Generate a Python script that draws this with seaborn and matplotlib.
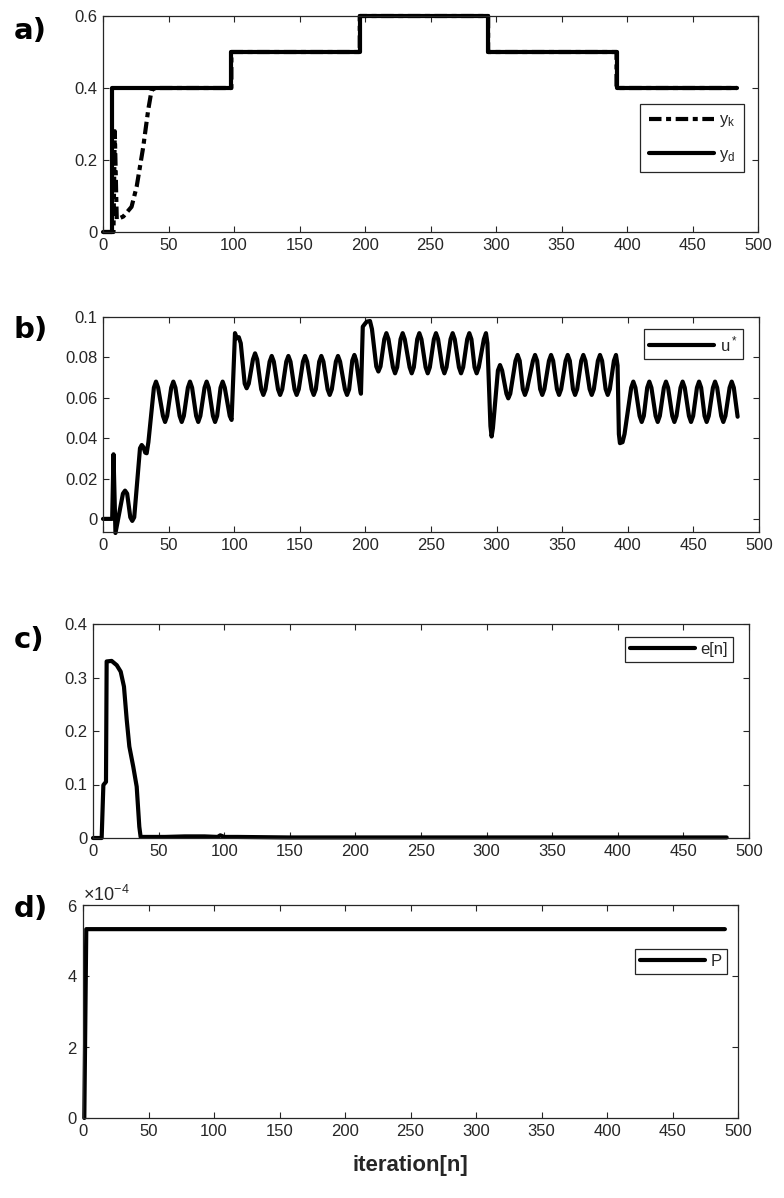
import matplotlib
matplotlib.use("Agg")
import matplotlib.pyplot as plt
import seaborn as sns
import pandas as pd
from matplotlib.ticker import FuncFormatter, MultipleLocator, ScalarFormatter

# ---------------- data ----------------
# panel a: desired output y_d and plant output y_k
yd_n = [0, 7, 7, 98, 98, 196, 196, 294, 294, 392, 392, 484]
yd_v = [0, 0, 0.4, 0.4, 0.5, 0.5, 0.6, 0.6, 0.5, 0.5, 0.4, 0.4]
yk_n = [0, 8, 9, 10.5, 15.5, 21.8, 25.7, 30.7, 34.5, 37.1, 40, 98, 98, 196, 196, 294, 294, 392, 392, 484]
yk_v = [0, 0, 0.28, 0.035, 0.043, 0.070, 0.126, 0.236, 0.339, 0.394, 0.4, 0.4, 0.5, 0.5, 0.6, 0.6, 0.5, 0.5, 0.4, 0.4]

# panel b: control signal u*
u_n = [0, 7, 8, 9.5, 15.2, 16.8, 18.4, 20.8, 22.3, 23.8, 28.2, 29.5, 30.8, 32.2, 33.3, 34.6,
       38.8, 40.4, 42.0, 45.7, 47.3, 48.9, 52.0, 53.6, 55.2, 58.4, 60, 61.6,
       64.7, 66.3, 67.9, 71.0, 72.6, 74.2, 77.4, 79, 80.6, 83.8, 85.4, 87.0,
       89.6, 91.2, 92.8, 96.6, 98,
       100.6, 102, 103.5, 105, 108, 109.5, 111.1,
       114.3, 115.9, 117.5, 120.6, 122.2, 123.8, 127.0, 128.6, 130.2, 133.4, 135, 136.6,
       139.7, 141.3, 142.9, 146.0, 147.6, 149.2, 152.4, 154, 155.6, 159.0, 160.6, 162.2,
       164.8, 166.4, 168.0, 171.2, 172.8, 174.4, 177.5, 179.1, 180.7, 184.4, 186, 187.6,
       190.0, 191.6, 193.0, 196.0, 196.6,
       198, 199.5, 201, 203.5, 205, 208.3, 209.9, 211.5,
       214.4, 216, 217.6, 221.0, 222.6, 224.2, 226.8, 228.4, 230.0, 233.7, 235.3, 236.9,
       239.5, 241.1, 242.7, 245.9, 247.5, 249.1, 252.2, 253.8, 255.4, 258.6, 260.2, 261.8,
       264.9, 266.5, 268.1, 271.3, 272.9, 274.5, 277.6, 279.2, 280.8, 283.2, 284.8, 286.4,
       290.3, 291.9, 293.0,
       295.3, 296.2, 297.2, 301.0, 302.6, 304.2, 307.5, 308.9, 310.4,
       314.4, 316, 317.6, 320.0, 321.6, 323.2, 327.7, 329.3, 330.9, 333.2, 334.8, 336.4,
       339.9, 341.5, 343.1, 346.0, 347.6, 349.2, 352.6, 354.2, 355.8, 358.2, 359.8, 361.4,
       364.5, 366.1, 367.7, 370.9, 372.5, 374.1, 377.2, 378.8, 380.4, 383.1, 384.7, 386.3,
       389.4, 391, 392.2,
       393.2, 394, 396, 397.5,
       402.6, 404.2, 405.8, 409.0, 410.6, 412.2, 414.8, 416.4, 418.0, 421.2, 422.8, 424.4,
       427.5, 429.1, 430.7, 433.9, 435.5, 437.1, 440.2, 441.8, 443.4, 446.6, 448.2, 449.8,
       452.7, 454.3, 455.9, 458.5, 460.1, 461.7, 464.9, 466.5, 468.1, 471.2, 472.8, 474.4,
       477.6, 479.2, 480.8, 483.7]
u_v = [0, 0, 0.032, -0.007, 0.0125, 0.014, 0.0125, 0.0008, -0.001, 0.0008, 0.035, 0.0366, 0.0355, 0.0328, 0.0325, 0.038,
       0.065, 0.068, 0.065, 0.051, 0.048, 0.051, 0.065, 0.068, 0.065, 0.051, 0.048, 0.051,
       0.065, 0.068, 0.065, 0.051, 0.048, 0.051, 0.065, 0.068, 0.065, 0.051, 0.048, 0.051,
       0.065, 0.068, 0.065, 0.051, 0.049,
       0.092, 0.0895, 0.090, 0.087, 0.067, 0.0647, 0.067,
       0.079, 0.082, 0.079, 0.0642, 0.0614, 0.0642, 0.0779, 0.0807, 0.0779, 0.0642, 0.0614, 0.0642,
       0.0779, 0.0807, 0.0779, 0.0642, 0.0614, 0.0642, 0.0779, 0.0807, 0.0779, 0.0642, 0.0614, 0.0642,
       0.0779, 0.0807, 0.0779, 0.0642, 0.0614, 0.0642, 0.0779, 0.0807, 0.0779, 0.0642, 0.0614, 0.0642,
       0.0784, 0.0812, 0.0784, 0.064, 0.062,
       0.0952, 0.0965, 0.0977, 0.098, 0.094, 0.0755, 0.073, 0.0755,
       0.089, 0.092, 0.089, 0.0751, 0.0721, 0.0751, 0.089, 0.092, 0.089, 0.0751, 0.0721, 0.0751,
       0.089, 0.092, 0.089, 0.0751, 0.0721, 0.0751, 0.089, 0.092, 0.089, 0.0751, 0.0721, 0.0751,
       0.089, 0.092, 0.089, 0.0751, 0.0721, 0.0751, 0.089, 0.092, 0.089, 0.0751, 0.0721, 0.0751,
       0.089, 0.092, 0.087,
       0.046, 0.0408, 0.045, 0.0735, 0.0762, 0.0735, 0.062, 0.0597, 0.062,
       0.0783, 0.0812, 0.0783, 0.0643, 0.0614, 0.0643, 0.0783, 0.0812, 0.0783, 0.0643, 0.0614, 0.0643,
       0.0783, 0.0812, 0.0783, 0.0643, 0.0614, 0.0643, 0.0783, 0.0812, 0.0783, 0.0643, 0.0614, 0.0643,
       0.0783, 0.0812, 0.0783, 0.0643, 0.0614, 0.0643, 0.0783, 0.0812, 0.0783, 0.0643, 0.0614, 0.0643,
       0.0783, 0.0812, 0.076,
       0.042, 0.0375, 0.038, 0.042,
       0.065, 0.068, 0.065, 0.051, 0.048, 0.051, 0.065, 0.068, 0.065, 0.051, 0.048, 0.051,
       0.065, 0.068, 0.065, 0.051, 0.048, 0.051, 0.065, 0.068, 0.065, 0.051, 0.048, 0.051,
       0.065, 0.068, 0.065, 0.051, 0.048, 0.051, 0.065, 0.068, 0.065, 0.051, 0.048, 0.051,
       0.065, 0.068, 0.065, 0.0506]

# panel c: tracking error e[n]
e_n = [0, 6.6, 7.9, 9.9, 10.4, 14.2, 18.1, 21.1, 23.6, 25.7, 27.7, 30.7, 33.3, 35.3, 36.3,
       45, 55, 70, 85, 95, 97, 100, 110, 150, 200, 300, 400, 483]
e_v = [0, 0, 0.099, 0.105, 0.330, 0.331, 0.323, 0.311, 0.283, 0.221, 0.171, 0.133, 0.096,
       0.021, 0.002, 0.002, 0.002, 0.003, 0.003, 0.002, 0.005, 0.002, 0.002, 0.001, 0.001,
       0.001, 0.001, 0.001]

# panel d: P
p_n = [1, 2.5, 490]
p_v = [0, 5.32e-4, 5.32e-4]

panel_labels = ["a)", "b)", "c)", "d)"]
x_ticks = [0, 50, 100, 150, 200, 250, 300, 350, 400, 450, 500]

# ---------------- style ----------------
sns.set_theme(style="ticks")
plt.rcParams["font.family"] = ["Liberation Sans", "DejaVu Sans"]
plt.rcParams["mathtext.fontset"] = "custom"
plt.rcParams["mathtext.rm"] = "Liberation Sans"
plt.rcParams["mathtext.it"] = "Liberation Sans:italic"
plt.rcParams["mathtext.bf"] = "Liberation Sans:bold"

W, H = 784, 1198
fig = plt.figure(figsize=(W / 100, H / 100), dpi=100)

def ax_rect(l, r, t, b):
    return [l / W, 1 - b / H, (r - l) / W, (b - t) / H]

axA = fig.add_axes(ax_rect(103, 758, 16, 232))
axB = fig.add_axes(ax_rect(103, 759, 317, 532))
axC = fig.add_axes(ax_rect(93, 749, 624, 838))
axD = fig.add_axes(ax_rect(83, 738, 905, 1118))

LW = 3.0
AXC = "#262626"
gfmt = FuncFormatter(lambda v, p: "%g" % round(v, 6))

def style(ax, ylim, ystep):
    ax.set_xlim(0, 500)
    ax.set_ylim(*ylim)
    ax.set_xticks(x_ticks)
    ax.yaxis.set_major_locator(MultipleLocator(ystep))
    ax.tick_params(direction="in", top=True, right=True, length=4.5, width=0.8,
                   labelsize=12, colors=AXC, pad=4)
    for s in ax.spines.values():
        s.set_color(AXC)
        s.set_linewidth(0.9)
    ax.set_xlabel("")
    ax.set_ylabel("")

def leg(ax, anchor, **kw):
    opts = dict(fontsize=12, handlelength=3.9, handletextpad=0.35, borderpad=0.3)
    opts.update(kw)
    lg = ax.legend(loc="upper right", bbox_to_anchor=anchor, borderaxespad=0,
                   fancybox=False, framealpha=1, edgecolor=AXC, **opts)
    lg.get_frame().set_linewidth(0.9)
    return lg

# panel a
dfa_k = pd.DataFrame({"n": yk_n, "v": yk_v})
dfa_d = pd.DataFrame({"n": yd_n, "v": yd_v})
sns.lineplot(data=dfa_k, x="n", y="v", ax=axA, color="black", lw=LW, sort=False,
             estimator=None, label=r"$\mathrm{y_k}$")
axA.lines[-1].set_dashes([3.0, 1.1, 1.2, 1.1])
sns.lineplot(data=dfa_d, x="n", y="v", ax=axA, color="black", lw=LW, sort=False,
             estimator=None, label=r"$\mathrm{y_d}$")
style(axA, (0, 0.6), 0.2)
axA.yaxis.set_major_formatter(gfmt)
leg(axA, ((744 - 103) / 655, 1 - (104 - 16) / 216), labelspacing=1.05, borderpad=0.5)

# panel b
dfb = pd.DataFrame({"n": u_n, "v": u_v})
sns.lineplot(data=dfb, x="n", y="v", ax=axB, color="black", lw=LW, sort=False,
             estimator=None, label=r"$\mathrm{u^*}$")
style(axB, (-0.0065, 0.1), 0.02)
axB.yaxis.set_major_formatter(gfmt)
leg(axB, ((743 - 103) / 656, 1 - (329 - 317) / 215))

# panel c
dfc = pd.DataFrame({"n": e_n, "v": e_v})
sns.lineplot(data=dfc, x="n", y="v", ax=axC, color="black", lw=LW, sort=False,
             estimator=None, label="e[n]")
style(axC, (0, 0.4), 0.1)
axC.yaxis.set_major_formatter(gfmt)
leg(axC, ((733 - 93) / 656, 1 - (637 - 624) / 214))

# panel d
dfd = pd.DataFrame({"n": p_n, "v": p_v})
sns.lineplot(data=dfd, x="n", y="v", ax=axD, color="black", lw=LW, sort=False,
             estimator=None, label="P")
style(axD, (0, 6e-4), 2e-4)
sf = ScalarFormatter(useMathText=True)
sf.set_powerlimits((-3, 3))
axD.yaxis.set_major_formatter(sf)
axD.yaxis.get_offset_text().set_fontsize(13)
axD.yaxis.get_offset_text().set_color(AXC)
leg(axD, ((727 - 83) / 655, 1 - (949 - 905) / 213))
axD.set_xlabel("iteration[n]", fontsize=16, fontweight="bold", color=AXC, labelpad=12)

for ax in (axA, axB, axC, axD):
    for ln in ax.lines:
        ln.set_clip_on(False)
        ln.set_solid_capstyle("round")
        ln.set_solid_joinstyle("round")

# panel letters
for lab, yc in zip(panel_labels, [31, 330, 640, 909]):
    fig.text(14 / W, 1 - yc / H, lab, fontsize=21, fontweight="bold",
             family="DejaVu Sans", ha="left", va="center", color="black")

fig.savefig("out.png", dpi=100)
